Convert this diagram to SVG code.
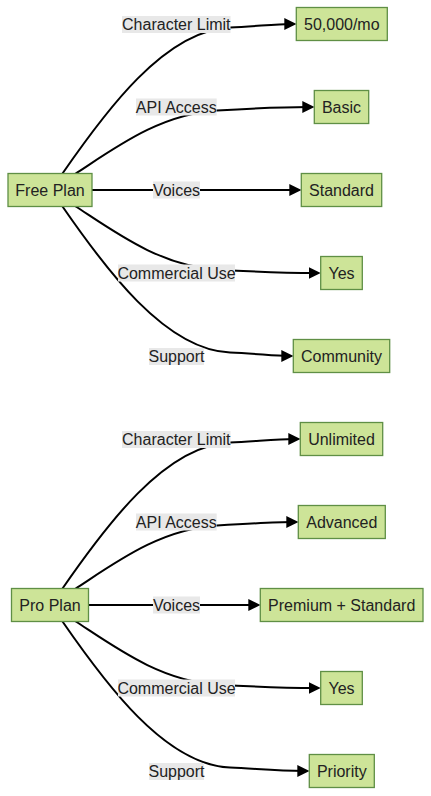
<svg xmlns="http://www.w3.org/2000/svg" width="431" height="796" viewBox="0 0 431 796">
<style>
.node rect{fill:#cde498;stroke:#5f8f45;stroke-width:1.3}
.node text{font-family:"Liberation Sans",Arial,sans-serif;font-size:16px;fill:#222;text-anchor:middle;dominant-baseline:central}
.edge{fill:none;stroke:#000;stroke-width:2}
.lbl rect{fill:#e8e8e8}
.lbl text{font-family:"Liberation Sans",Arial,sans-serif;font-size:16px;fill:#222;text-anchor:middle;dominant-baseline:central}
</style>
<defs>
<marker id="arr" viewBox="0 0 12 12" refX="7" refY="6" markerWidth="12" markerHeight="12" markerUnits="userSpaceOnUse" orient="auto">
<path d="M0,0 L12,6 L0,12 z" fill="#000"/>
</marker>
</defs>
<rect width="431" height="796" fill="#fff"/>
<g id="connectors">
<path class="edge" marker-end="url(#arr)" d="M62.5,173.5 C105,112 165,30 230,27.5 C255,26.5 275,24 291.3,24"/>
<path class="edge" marker-end="url(#arr)" d="M75,174 C115,148 160,114 217,110.5 C245,108.8 280,107 309.3,107"/>
<path class="edge" marker-end="url(#arr)" d="M92,190 L296.3,190"/>
<path class="edge" marker-end="url(#arr)" d="M75,206 C115,232 160,266 217,269.5 C245,271.2 280,273 315.7,273"/>
<path class="edge" marker-end="url(#arr)" d="M62.5,206.5 C105,268 165,350 230,352.5 C255,353.5 275,356 288.3,356"/>
<path class="edge" marker-end="url(#arr)" d="M62.5,588.5 C105,527 165,445 230,442.5 C255,441.5 275,439 295.3,439"/>
<path class="edge" marker-end="url(#arr)" d="M75,589 C115,563 160,529 217,525.5 C245,523.8 280,522 293.3,522"/>
<path class="edge" marker-end="url(#arr)" d="M88.3,605 L255.3,605"/>
<path class="edge" marker-end="url(#arr)" d="M75,621 C115,647 160,681 217,684.5 C245,686.2 280,688 315.7,688"/>
<path class="edge" marker-end="url(#arr)" d="M62.5,621.5 C105,683 165,765 230,767.5 C255,768.5 275,771 304.3,771"/>
<g class="lbl"><rect x="122" y="16" width="108.5" height="17"/><text x="176.3" y="24.5">Character Limit</text></g>
<g class="lbl"><rect x="136" y="98.5" width="80.7" height="17"/><text x="176.3" y="107">API Access</text></g>
<g class="lbl"><rect x="153" y="181.5" width="47" height="17"/><text x="176.5" y="190">Voices</text></g>
<g class="lbl"><rect x="118" y="264.5" width="117" height="17"/><text x="176.5" y="273">Commercial Use</text></g>
<g class="lbl"><rect x="149" y="348" width="55" height="17"/><text x="176.5" y="356.5">Support</text></g>
<g class="lbl"><rect x="122" y="431" width="108.5" height="17"/><text x="176.3" y="439.5">Character Limit</text></g>
<g class="lbl"><rect x="136" y="513.5" width="80.7" height="17"/><text x="176.3" y="522">API Access</text></g>
<g class="lbl"><rect x="153" y="596.5" width="47" height="17"/><text x="176.5" y="605">Voices</text></g>
<g class="lbl"><rect x="118" y="679.5" width="117" height="17"/><text x="176.5" y="688">Commercial Use</text></g>
<g class="lbl"><rect x="149" y="763" width="55" height="17"/><text x="176.5" y="771.5">Support</text></g>
</g>
<g id="free-plan" class="node"><rect x="8" y="173.5" width="84" height="33"/><text x="50" y="190">Free Plan</text></g>
<g id="free-char" class="node"><rect x="296.3" y="7.5" width="91" height="33"/><text x="341.8" y="24">50,000/mo</text></g>
<g id="free-api" class="node"><rect x="314.3" y="90.5" width="54.4" height="33"/><text x="341.5" y="107">Basic</text></g>
<g id="free-voices" class="node"><rect x="301.3" y="173.5" width="80.4" height="33"/><text x="341.5" y="190">Standard</text></g>
<g id="free-commercial" class="node"><rect x="320.7" y="256.5" width="41.6" height="33"/><text x="341.5" y="273">Yes</text></g>
<g id="free-support" class="node"><rect x="293.3" y="339.5" width="96.4" height="33"/><text x="341.5" y="356">Community</text></g>
<g id="pro-plan" class="node"><rect x="11.5" y="588.5" width="77" height="33"/><text x="50" y="605">Pro Plan</text></g>
<g id="pro-char" class="node"><rect x="300.3" y="422.5" width="82.4" height="33"/><text x="341.5" y="439">Unlimited</text></g>
<g id="pro-api" class="node"><rect x="298.3" y="505.5" width="87" height="33"/><text x="341.8" y="522">Advanced</text></g>
<g id="pro-voices" class="node"><rect x="260.3" y="588.5" width="162.7" height="33"/><text x="341.7" y="605">Premium + Standard</text></g>
<g id="pro-commercial" class="node"><rect x="320.7" y="671.5" width="41.6" height="33"/><text x="341.5" y="688">Yes</text></g>
<g id="pro-support" class="node"><rect x="309.3" y="754.5" width="65" height="33"/><text x="341.8" y="771">Priority</text></g>
</svg>
